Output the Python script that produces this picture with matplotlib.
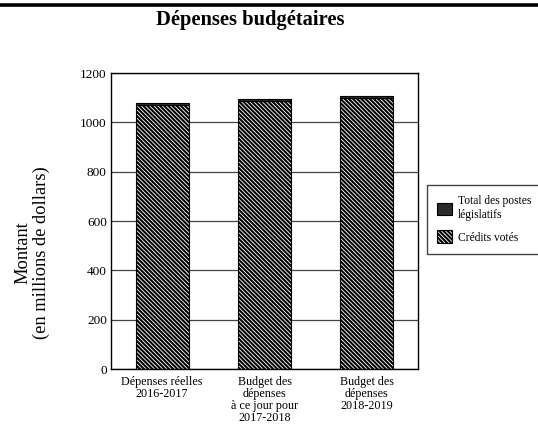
import matplotlib.pyplot as plt
from matplotlib.patches import Patch
from matplotlib.lines import Line2D
import numpy as np

plt.rcParams["font.family"] = ["Liberation Serif", "DejaVu Serif"]
plt.rcParams["hatch.linewidth"] = 1.5

# Données (en millions de dollars)
categories = [
    "Dépenses réelles\n2016-2017",
    "Budget des\ndépenses\nà ce jour pour\n2017-2018",
    "Budget des\ndépenses\n2018-2019",
]
credits_votes = [1072, 1087, 1097]
postes_legislatifs = [6, 8, 8]

COLOR_STAT = "#2b2b2b"
HATCH = "\\" * 8

fig = plt.figure(figsize=(5.38, 4.25), dpi=100)
ax = fig.add_axes([111 / 538, 1 - 369 / 425, 307 / 538, 296 / 425])

x = np.arange(len(categories))
w = 0.52
ax.bar(x, credits_votes, width=w, color="white", hatch=HATCH,
       edgecolor="black", linewidth=0.8, zorder=2)
ax.bar(x, postes_legislatifs, width=w, bottom=credits_votes, color=COLOR_STAT,
       edgecolor="black", linewidth=0.8, zorder=2)

ax.set_xlim(-0.5, 2.5)
ax.set_ylim(0, 1200)
ax.set_yticks(range(0, 1201, 200))
ax.yaxis.grid(True, color="#444444", linewidth=0.9, zorder=0)
ax.set_axisbelow(True)
ax.set_xticks(x)
ax.set_xticklabels(categories, fontsize=8.7, linespacing=1.0)
ax.tick_params(axis="x", length=0, pad=5)
ax.tick_params(axis="y", labelsize=9.5, length=0, pad=3)
for s in ax.spines.values():
    s.set_linewidth(1.0)
    s.set_color("black")

# Titre et filet supérieur
fig.add_artist(Line2D([0, 1], [1 - 4.5 / 425, 1 - 4.5 / 425], color="black",
                      linewidth=2.6, transform=fig.transFigure))
fig.text(250 / 538, 1 - 20 / 425, "Dépenses budgétaires", ha="center", va="center",
         fontsize=14.8, fontweight="bold")

fig.text(0.060, 1 - 253 / 425, "Montant\n(en millions de dollars)", rotation=90,
         ha="center", va="center", fontsize=13.3, linespacing=1.05)

handles = [
    Patch(facecolor=COLOR_STAT, edgecolor="black", linewidth=0.8,
          label="Total des postes\nlégislatifs"),
    Patch(facecolor="white", edgecolor="black", hatch=HATCH,
          linewidth=0.8, label="Crédits votés"),
]
leg = fig.legend(handles=handles, loc="upper left",
                 bbox_to_anchor=(427 / 538, 1 - 185 / 425), fontsize=8.3,
                 frameon=True, fancybox=False, framealpha=1, facecolor="white",
                 handlelength=1.3, handleheight=1.3,
                 handletextpad=0.5, borderpad=0.9, borderaxespad=0,
                 labelspacing=0.8)
leg.get_frame().set_edgecolor("#444444")
leg.get_frame().set_linewidth(1.0)

fig.savefig("out.png", dpi=100)
